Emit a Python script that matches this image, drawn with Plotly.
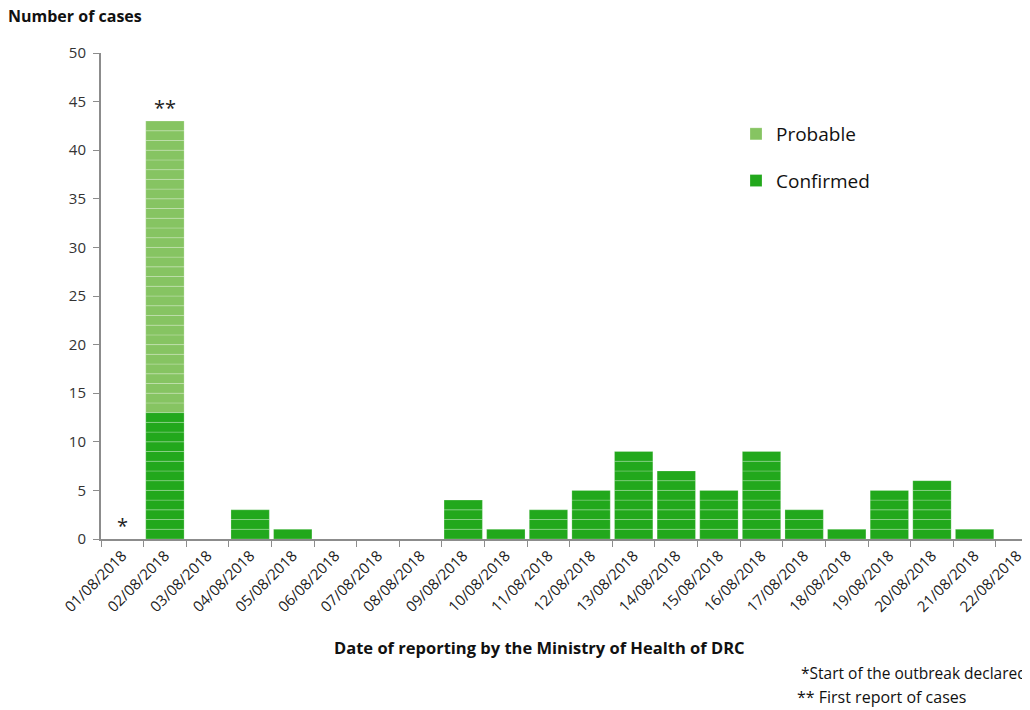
import plotly.graph_objects as go

dates = ["01/08/2018", "02/08/2018", "03/08/2018", "04/08/2018", "05/08/2018",
         "06/08/2018", "07/08/2018", "08/08/2018", "09/08/2018", "10/08/2018",
         "11/08/2018", "12/08/2018", "13/08/2018", "14/08/2018", "15/08/2018",
         "16/08/2018", "17/08/2018", "18/08/2018", "19/08/2018", "20/08/2018",
         "21/08/2018", "22/08/2018"]
confirmed = [0, 13, 0, 3, 1, 0, 0, 0, 4, 1, 3, 5, 9, 7, 5, 9, 3, 1, 5, 6, 1, 0]
probable = [0, 30, 0, 0, 0, 0, 0, 0, 0, 0, 0, 0, 0, 0, 0, 0, 0, 0, 0, 0, 0, 0]

C_CONF = "#22a81c"
C_PROB = "#86c462"
FONT = "Open Sans"


def unit_blocks(values, bases):
    xs, ys, bs = [], [], []
    for d, v, b in zip(dates, values, bases):
        for k in range(v):
            xs.append(d)
            ys.append(1)
            bs.append(b + k)
    return xs, ys, bs


fig = go.Figure()
cx, cy, cb = unit_blocks(confirmed, [0] * len(dates))
px_, py, pb = unit_blocks(probable, confirmed)

LINE = dict(color="rgba(255,255,255,0.22)", width=1)
fig.add_trace(go.Bar(x=px_, y=py, base=pb, name="Probable", width=0.9,
                     legendgroup="p", marker=dict(color=C_PROB, line=LINE)))
fig.add_trace(go.Bar(x=cx, y=cy, base=cb, name="Confirmed", width=0.9,
                     legendgroup="c", marker=dict(color=C_CONF, line=LINE)))

totals = [c + p for c, p in zip(confirmed, probable)]
fig.add_annotation(x=dates[0], y=0, text="*", showarrow=False, yanchor="bottom",
                   yshift=-2, font=dict(family=FONT, size=20, color="#222"))
fig.add_annotation(x=dates[1], y=totals[1], text="**", showarrow=False, yanchor="bottom",
                   yshift=-2, font=dict(family=FONT, size=20, color="#222"))

# page body has an 8px margin: layout coordinates below are page coords minus 8
OFF = 8
L, T, PW, PH = 101 - OFF, 53 - OFF, 929, 486


def px2x(p):
    return (p - OFF - L) / PW


def py2y(p):
    return 1 - (p - OFF - T) / PH


fig.add_annotation(xref="paper", yref="paper", x=px2x(6), y=py2y(16), xanchor="left",
                   yanchor="middle", text="<b>Number of cases</b>", showarrow=False,
                   font=dict(family=FONT, size=16, color="#111"))
fig.add_annotation(xref="paper", yref="paper", x=px2x(539), y=py2y(647),
                   xanchor="center", yanchor="middle",
                   text="<b>Date of reporting by the Ministry of Health of DRC</b>",
                   showarrow=False, font=dict(family=FONT, size=16.5, color="#111"))
fig.add_annotation(xref="paper", yref="paper", x=px2x(799), y=py2y(673),
                   xanchor="left", yanchor="middle", text="*Start of the outbreak declared",
                   showarrow=False, font=dict(family=FONT, size=15.5, color="#111"))
fig.add_annotation(xref="paper", yref="paper", x=px2x(795), y=py2y(697),
                   xanchor="left", yanchor="middle", text="** First report of cases",
                   showarrow=False, font=dict(family=FONT, size=16, color="#111"))

fig.update_layout(
    width=1030 - OFF, height=710 - OFF,
    margin=dict(l=L, r=0, t=T, b=710 - OFF - T - PH, autoexpand=False),
    plot_bgcolor="white", paper_bgcolor="white",
    barmode="overlay",
    showlegend=True,
    legend=dict(x=px2x(728 + OFF), y=py2y(107 + OFF), xanchor="left", yanchor="top",
                traceorder="grouped", tracegroupgap=19,
                font=dict(family=FONT, size=19, color="#111"), bgcolor="rgba(0,0,0,0)"),
    xaxis=dict(type="category", categoryorder="array", categoryarray=dates,
               range=[-0.5, 21.3], tickson="boundaries", ticks="outside", ticklen=6,
               tickcolor="#8c8c8c", showline=True, linecolor="#8c8c8c", linewidth=2,
               tickangle=-45, tickfont=dict(family=FONT, size=15, color="#222"),
               showgrid=False, fixedrange=True, automargin=False),
    yaxis=dict(range=[0, 50], dtick=5, ticks="outside", ticklen=6, tickcolor="#8c8c8c",
               showline=True, linecolor="#8c8c8c", linewidth=2, showgrid=False, zeroline=False,
               tickfont=dict(family=FONT, size=15, color="#333"), fixedrange=True,
               ticklabelstandoff=4, automargin=False),
    font=dict(family=FONT),
)

fig.write_html("out.html")
